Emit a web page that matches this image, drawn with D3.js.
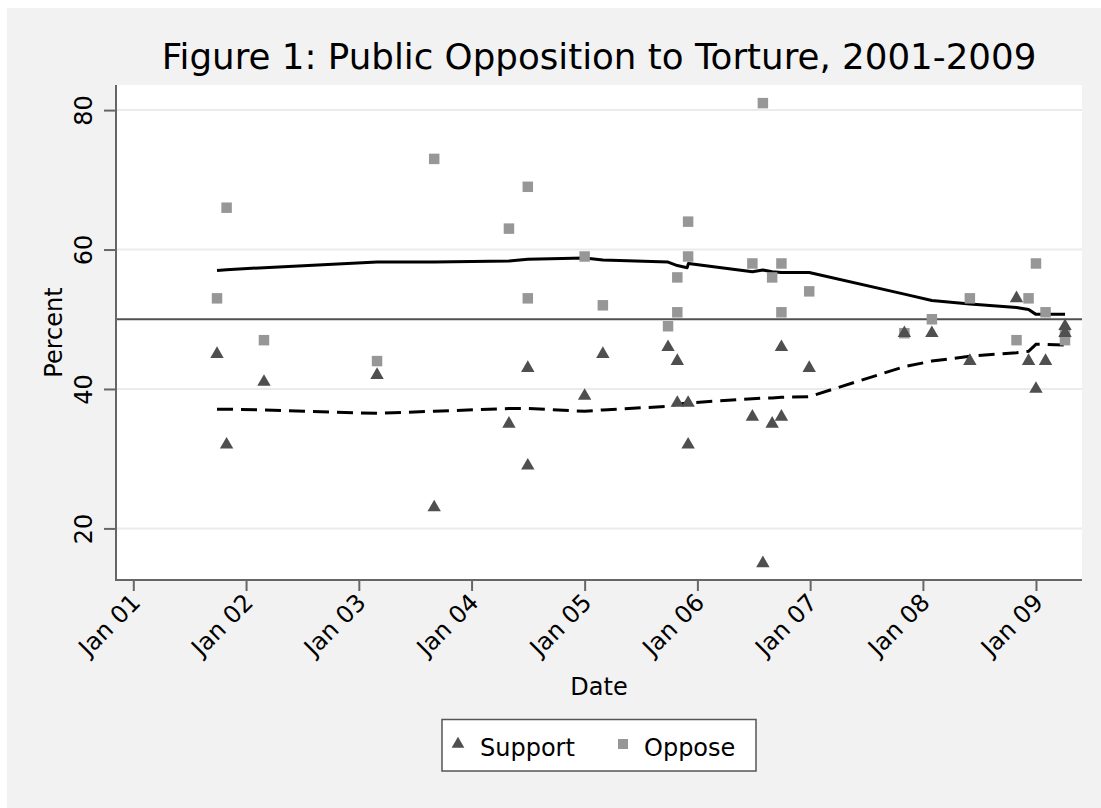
<!DOCTYPE html>
<html>
<head>
<meta charset="utf-8">
<script src="https://cdn.jsdelivr.net/npm/d3@7"></script>
<style>
  html, body { margin: 0; padding: 0; background: #ffffff; }
  svg { display: block; }
  text { font-family: "DejaVu Sans", "Liberation Sans", sans-serif; fill: #000; }
</style>
</head>
<body>
<svg id="chart" width="1101" height="808"></svg>
<script>
// ---------------- DATA ----------------
const pollDates = ["2001-09-29","2001-10-30","2002-02-28","2003-03-01","2003-09-02",
  "2004-05-01","2004-07-01","2004-07-01","2005-01-01","2005-03-01",
  "2005-09-28","2005-10-28","2005-10-28","2005-12-02","2005-12-02",
  "2006-06-28","2006-08-01","2006-08-31","2006-09-30","2006-09-30",
  "2006-12-29","2007-11-02","2008-01-30","2008-06-01","2008-10-30",
  "2008-12-08","2009-01-01","2009-02-01","2009-04-05","2009-04-05"];
const supportValues = [45,32,41,42,23, 35,29,43,39,45, 46,38,44,32,38, 36,15,35,36,46, 43,48,48,44,53, 44,40,44,49,48];
const opposeValues  = [53,66,47,44,73, 63,69,53,59,52, 49,56,51,64,59, 58,81,56,58,51, 54,48,50,53,47, 53,58,51,47,48];

const smoothDates = ["2001-09-29","2001-10-30","2002-02-28","2003-03-01","2003-09-02",
  "2004-05-01","2004-07-01","2005-01-01","2005-03-01","2005-09-28",
  "2005-10-28","2005-11-29","2005-12-03","2006-06-28","2006-08-01",
  "2006-08-31","2006-09-30","2006-12-29","2007-11-02","2008-01-30",
  "2008-06-01","2008-10-30","2008-12-08","2009-01-01","2009-02-01","2009-04-05"];
const opposeSmooth  = [57.0,57.1,57.4,58.2,58.2, 58.35,58.6,58.8,58.5,58.2, 57.7,57.4,58.0,56.8,57.06, 56.8,56.7,56.7,53.6,52.7, 52.2,51.7,51.4,50.7,50.7,50.7];
const supportSmooth = [37.1,37.1,37.0,36.5,36.8, 37.2,37.2,36.8,37.0,37.5, 37.8,38.0,38.0,38.6,38.7, 38.7,38.8,38.9,43.2,44.0, 44.7,45.2,45.4,46.4,46.4,46.3];

const yTicks = [20, 40, 60, 80];
const xTickDates = ["2001-01-01","2002-01-01","2003-01-01","2004-01-01","2005-01-01",
  "2006-01-01","2007-01-01","2008-01-01","2009-01-01"];
const referenceLine = 50;
const titleText = "Figure 1: Public Opposition to Torture, 2001-2009";
const legendLabels = ["Support", "Oppose"];

// ---------------- LAYOUT ----------------
const W = 1101, H = 808;
const plot = { left: 116, right: 1082, top: 85, bottom: 580 };
const parse = d3.timeParse("%Y-%m-%d");
const supColor = "#4f4f4f", oppColor = "#979797";

const svg = d3.select("#chart");

svg.append("rect").attr("x", 7).attr("y", 8).attr("width", W - 7).attr("height", H - 8).attr("fill", "#f2f2f2");
svg.append("rect").attr("x", plot.left).attr("y", plot.top)
  .attr("width", plot.right - plot.left).attr("height", plot.bottom - plot.top).attr("fill", "#ffffff");

const x = d3.scaleTime()
  .domain([parse("2000-11-06"), parse("2009-05-30")])
  .range([plot.left, plot.right]);
const y = d3.scaleLinear().domain([12.6, 83.6]).range([plot.bottom, plot.top]);

// gridlines
svg.append("g").selectAll("line").data(yTicks).join("line")
  .attr("x1", plot.left).attr("x2", plot.right)
  .attr("y1", d => y(d)).attr("y2", d => y(d))
  .attr("stroke", "#ebebeb").attr("stroke-width", 2);

// reference line at 50
svg.append("line")
  .attr("x1", plot.left).attr("x2", plot.right)
  .attr("y1", y(referenceLine)).attr("y2", y(referenceLine))
  .attr("stroke", "#505050").attr("stroke-width", 2);

// axes
const yAxis = d3.axisLeft(y).tickValues(yTicks).tickSize(12).tickPadding(12);
const gy = svg.append("g").attr("transform", `translate(${plot.left},0)`).call(yAxis);
gy.select(".domain").remove();
gy.append("line").attr("x1", 0).attr("x2", 0).attr("y1", plot.top).attr("y2", plot.bottom + 1)
  .attr("stroke", "#666").attr("stroke-width", 2);
gy.selectAll(".tick line").attr("stroke", "#666").attr("stroke-width", 2);
gy.selectAll(".tick text")
  .attr("font-size", 24).attr("font-family", "DejaVu Sans").attr("fill", "#000")
  .attr("text-anchor", "middle").attr("x", 0).attr("dy", 0)
  .attr("transform", "translate(-24,0) rotate(-90)");

const xAxis = d3.axisBottom(x).tickValues(xTickDates.map(parse))
  .tickFormat(d3.timeFormat("%b %y")).tickSize(11);
const gx = svg.append("g").attr("transform", `translate(0,${plot.bottom})`).call(xAxis);
gx.select(".domain").remove();
gx.append("line").attr("x1", plot.left - 1).attr("x2", plot.right).attr("y1", 0).attr("y2", 0)
  .attr("stroke", "#666").attr("stroke-width", 2);
gx.selectAll(".tick line").attr("stroke", "#666").attr("stroke-width", 2);
gx.selectAll(".tick text")
  .attr("font-size", 24).attr("font-family", "DejaVu Sans").attr("fill", "#000")
  .attr("text-anchor", "end").attr("y", 0).attr("dy", 0)
  .attr("transform", "translate(8,24) rotate(-45)");

// smooth lines
const lineGen = d3.line().x(d => x(d[0])).y(d => y(d[1]));
const sDates = smoothDates.map(parse);
svg.append("path")
  .attr("d", lineGen(sDates.map((d, i) => [d, opposeSmooth[i]])))
  .attr("fill", "none").attr("stroke", "#000").attr("stroke-width", 3).attr("stroke-linejoin", "round");
svg.append("path")
  .attr("d", lineGen(sDates.map((d, i) => [d, supportSmooth[i]])))
  .attr("fill", "none").attr("stroke", "#000").attr("stroke-width", 3)
  .attr("stroke-dasharray", "16,8");

// markers
const pDates = pollDates.map(parse);
const sq = d3.symbol().type(d3.symbolSquare).size(110);
const tri = d3.symbol().type(d3.symbolTriangle).size(78);
svg.append("g").selectAll("path").data(pDates.map((d, i) => [d, opposeValues[i]])).join("path")
  .attr("d", sq).attr("transform", d => `translate(${x(d[0])},${y(d[1])})`).attr("fill", oppColor);
svg.append("g").selectAll("path").data(pDates.map((d, i) => [d, supportValues[i]])).join("path")
  .attr("d", tri).attr("transform", d => `translate(${x(d[0])},${y(d[1])})`).attr("fill", supColor);

// title (fit to measured width)
const cx = (plot.left + plot.right) / 2;
const title = svg.append("text").attr("x", cx).attr("y", 69).attr("text-anchor", "middle")
  .attr("font-size", 36).text(titleText);
const tl = title.node().getComputedTextLength();
title.attr("font-size", 36 * 875 / tl);

// axis titles
svg.append("text").attr("x", cx).attr("y", 695).attr("text-anchor", "middle").attr("font-size", 24).text("Date");
svg.append("text").attr("transform", `translate(62,${(plot.top + plot.bottom) / 2}) rotate(-90)`)
  .attr("text-anchor", "middle").attr("font-size", 24).text("Percent");

// legend
const lg = svg.append("g");
lg.append("rect").attr("x", 442).attr("y", 719.5).attr("width", 314).attr("height", 51.5)
  .attr("fill", "#fff").attr("stroke", "#555").attr("stroke-width", 1.5);
lg.append("path").attr("d", d3.symbol().type(d3.symbolTriangle).size(70)())
  .attr("transform", "translate(458,744)").attr("fill", supColor);
lg.append("text").attr("x", 480).attr("y", 756).attr("font-size", 24).text(legendLabels[0]);
lg.append("path").attr("d", d3.symbol().type(d3.symbolSquare).size(100)())
  .attr("transform", "translate(623,744)").attr("fill", oppColor);
lg.append("text").attr("x", 644).attr("y", 756).attr("font-size", 24).text(legendLabels[1]);
</script>
</body>
</html>
